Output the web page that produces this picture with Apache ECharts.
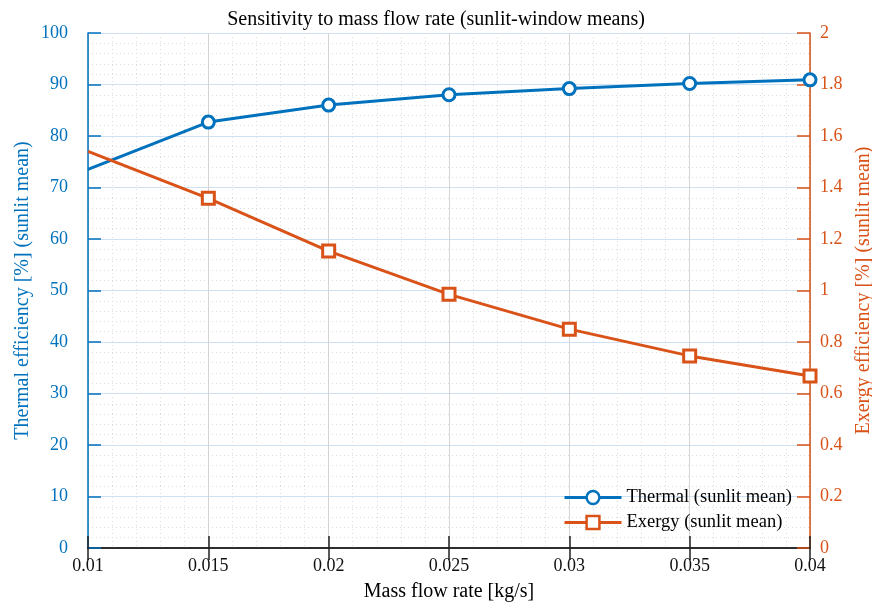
<!DOCTYPE html>
<html>
<head>
<meta charset="utf-8">
<script src="https://cdn.jsdelivr.net/npm/echarts@6/dist/echarts.min.js"></script>
<style>
  html, body { margin: 0; padding: 0; background: #fff; }
  #main { width: 872px; height: 606px; }
</style>
</head>
<body>
<div id="main"></div>
<script>
// mass flow rate [kg/s]
var flowRates = [0.01, 0.015, 0.02, 0.025, 0.03, 0.035, 0.04];
// thermal efficiency [%] (left axis)
var thermal = [73.5, 82.7, 86.0, 88.0, 89.2, 90.2, 90.9];
// exergy efficiency [%] (right axis)
var exergy = [1.54, 1.358, 1.153, 0.985, 0.85, 0.746, 0.668];

var seriesNames = ['Thermal (sunlit mean)', 'Exergy (sunlit mean)'];

var BLUE = '#0072BD';
var ORANGE = '#D95319';
var FONT = 'Liberation Serif';

function pairs(xs, ys) {
    var res = [];
    for (var i = 0; i < xs.length; i++) {
        var item = { value: [xs[i], ys[i]] };
        // no marker drawn at the left border
        if (i === 0) item.symbol = 'none';
        res.push(item);
    }
    return res;
}

var myChart = echarts.init(document.getElementById('main'));

var option = {
    backgroundColor: '#fff',
    animation: false,
    title: {
        text: 'Sensitivity to mass flow rate (sunlit-window means)',
        left: 'center',
        top: 5,
        textStyle: { fontFamily: FONT, fontSize: 20, fontWeight: 'normal', color: '#000' }
    },
    legend: {
        data: seriesNames,
        orient: 'vertical',
        left: 563,
        top: 488,
        padding: 0,
        itemWidth: 57,
        itemHeight: 16,
        itemGap: 6,
        lineStyle: { width: 3 },
        itemStyle: { borderWidth: 2.5 },
        textStyle: { fontFamily: FONT, fontSize: 18.5, color: '#000' }
    },
    grid: { left: 88, right: 62, top: 33, bottom: 58, containLabel: false, outerBoundsMode: 'none' },
    xAxis: [{
        type: 'value',
        min: 0.01,
        max: 0.04,
        interval: 0.005,
        name: 'Mass flow rate [kg/s]',
        nameLocation: 'middle',
        nameGap: 34,
        nameMoveOverlap: false,
        nameTextStyle: { fontFamily: FONT, fontSize: 20, color: '#000' },
        axisLine: { show: true, lineStyle: { color: '#222', width: 1.5 } },
        axisTick: { show: true, inside: true, length: 12, lineStyle: { color: '#222', width: 1.5 } },
        axisLabel: {
            fontFamily: FONT, fontSize: 18, color: '#111', margin: 9,
            formatter: function (v) { return String(parseFloat(v.toFixed(3))); }
        },
        splitLine: { show: true, lineStyle: { color: '#d4d4d4', width: 1 } },
        minorTick: { show: false, splitNumber: 5 },
        minorSplitLine: { show: true, lineStyle: { color: '#dcdcdc', width: 1, type: [1, 3] } }
    }, {
        type: 'value',
        position: 'top',
        min: 0.01,
        max: 0.04,
        interval: 0.005,
        axisLine: { show: true, lineStyle: { color: '#222', width: 1.5 } },
        axisTick: { show: true, inside: true, length: 12, lineStyle: { color: '#222', width: 1.5 } },
        axisLabel: { show: false },
        splitLine: { show: false }
    }],
    yAxis: [{
        type: 'value',
        position: 'left',
        min: 0,
        max: 100,
        interval: 10,
        name: 'Thermal efficiency [%] (sunlit mean)',
        nameLocation: 'middle',
        nameGap: 55,
        nameMoveOverlap: false,
        nameTextStyle: { fontFamily: FONT, fontSize: 20, color: BLUE },
        axisLine: { show: true, lineStyle: { color: BLUE, width: 1.5 } },
        axisTick: { show: true, inside: true, length: 13, lineStyle: { color: BLUE, width: 1.5 } },
        axisLabel: { fontFamily: FONT, fontSize: 18, color: BLUE, margin: 20 },
        splitLine: { show: true, lineStyle: { color: '#cfe2f3', width: 1.2 } },
        minorTick: { show: false, splitNumber: 5 },
        minorSplitLine: { show: true, lineStyle: { color: '#dcdcdc', width: 1, type: [1, 3] } }
    }, {
        type: 'value',
        position: 'right',
        min: 0,
        max: 2,
        interval: 0.2,
        name: 'Exergy efficiency [%] (sunlit mean)',
        nameLocation: 'middle',
        nameGap: 44,
        nameMoveOverlap: false,
        nameTextStyle: { fontFamily: FONT, fontSize: 20, color: ORANGE },
        axisLine: { show: true, lineStyle: { color: ORANGE, width: 1.5 } },
        axisTick: { show: true, inside: true, length: 13, lineStyle: { color: ORANGE, width: 1.5 } },
        axisLabel: {
            fontFamily: FONT, fontSize: 18, color: ORANGE, margin: 10,
            formatter: function (v) { return String(parseFloat(v.toFixed(1))); }
        },
        splitLine: { show: false }
    }],
    series: [{
        name: seriesNames[0],
        type: 'line',
        xAxisIndex: 0,
        yAxisIndex: 0,
        data: pairs(flowRates, thermal),
        symbol: 'circle',
        symbolSize: 12,
        showAllSymbol: true,
        lineStyle: { color: BLUE, width: 3 },
        itemStyle: { color: '#fff', borderColor: BLUE, borderWidth: 3 },
        z: 3
    }, {
        name: seriesNames[1],
        type: 'line',
        xAxisIndex: 0,
        yAxisIndex: 1,
        data: pairs(flowRates, exergy),
        symbol: 'rect',
        symbolSize: 12,
        showAllSymbol: true,
        lineStyle: { color: ORANGE, width: 3 },
        itemStyle: { color: '#fff', borderColor: ORANGE, borderWidth: 3 },
        z: 3
    }]
};

myChart.setOption(option);
window.addEventListener('resize', function () {
    myChart.resize();
});
</script>
</body>
</html>
